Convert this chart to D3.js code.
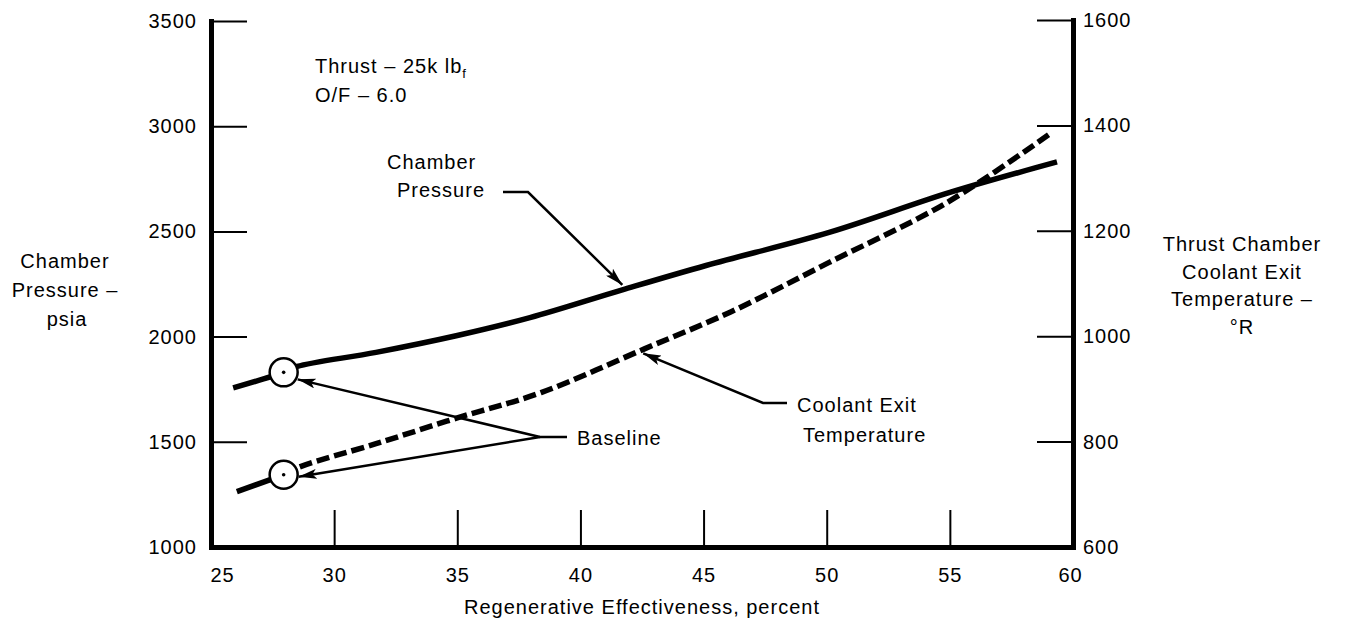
<!DOCTYPE html>
<html><head><meta charset="utf-8">
<script src="https://cdn.jsdelivr.net/npm/d3@7"></script>
<style>
body{margin:0;background:#fff;}
svg text{font-family:"Liberation Sans",Arial,Helvetica,sans-serif;font-size:20px;letter-spacing:1px;fill:#000;}
</style></head>
<body><svg id="c" width="1350" height="624"></svg>
<script>
// ---- data ----
const xTicks = [25,30,35,40,45,50,55,60];
const pressureTicks = [1000,1500,2000,2500,3000,3500];
const tempTicks = [600,800,1000,1200,1400,1600];
// Chamber pressure (psia) vs regenerative effectiveness (%)
const pressureX = [25.9,27.95,28.5,31.7,35.0,37.95,41.7,45.1,50.1,55.0,59.35];
const pressureY = [1756,1830,1858,1925,2005,2090,2222,2338,2495,2685,2830];
// Coolant exit temperature (°R)
const tempX = [26.05,27.95,28.6,31.7,35.0,38.4,42.6,46.1,50.1,54.9,59.15];
const tempY = [705,737,752,796,845,893,976,1046,1140,1254,1387];
// baseline point
const baseX = 27.95, basePressure = 1830, baseTemp = 737;

const svg = d3.select("#c");
const x = d3.scaleLinear().domain([25,60]).range([211,1073]);
const yL = d3.scaleLinear().domain([1000,3500]).range([547,21]);
const yR = d3.scaleLinear().domain([600,1600]).range([547,20]);

function styleAxis(g){
  g.select(".domain").attr("stroke","#000").attr("stroke-width",5).attr("stroke-linecap","square");
  g.selectAll(".tick line").attr("stroke","#000").attr("stroke-width",2);
  g.selectAll(".tick text").attr("font-size",null).attr("font-family",null).attr("fill","#000");
  g.attr("font-size",null).attr("font-family",null);
}
// bottom axis
const gx = svg.append("g").attr("transform","translate(0,547)")
  .call(d3.axisBottom(x).tickValues(xTicks).tickSizeInner(-37).tickSizeOuter(0).tickPadding(21).tickFormat(d3.format("d")));
styleAxis(gx);
gx.selectAll(".tick").filter(d=>d===25||d===60).select("line").remove();
gx.selectAll(".tick text").attr("dx",d=>d===25?11:(d===60?-3:0));
// left axis
const gl = svg.append("g").attr("transform","translate(211,0)")
  .call(d3.axisLeft(yL).tickValues(pressureTicks).tickSizeInner(-36).tickSizeOuter(0).tickPadding(14).tickFormat(d3.format("d")));
styleAxis(gl);
gl.selectAll(".tick").filter(d=>d===1000).select("line").remove();
// right axis
const gr = svg.append("g").attr("transform","translate(1073,0)")
  .call(d3.axisRight(yR).tickValues(tempTicks).tickSizeInner(-36).tickSizeOuter(0).tickPadding(10).tickFormat(d3.format("d")));
styleAxis(gr);
gr.selectAll(".tick").filter(d=>d===600).select("line").remove();

// curves
const pData = pressureX.map((v,i)=>[v,pressureY[i]]);
const tData = tempX.map((v,i)=>[v,tempY[i]]);
const lineP = d3.line().x(d=>x(d[0])).y(d=>yL(d[1])).curve(d3.curveCatmullRom.alpha(0.5));
const lineT = d3.line().x(d=>x(d[0])).y(d=>yR(d[1])).curve(d3.curveCatmullRom.alpha(0.5));
svg.append("path").attr("d",lineP(pData)).attr("fill","none").attr("stroke","#000").attr("stroke-width",5.5);
svg.append("path").attr("d",lineT(tData.filter(d=>d[0]<=baseX))).attr("fill","none").attr("stroke","#000").attr("stroke-width",5.5);
svg.append("path").attr("d",lineT(tData.filter(d=>d[0]>=baseX))).attr("fill","none").attr("stroke","#000").attr("stroke-width",5.5).attr("stroke-dasharray","13,5");

// markers
svg.append("defs").append("marker").attr("id","ah").attr("viewBox","0 0 18 10").attr("refX",18).attr("refY",5)
  .attr("markerWidth",18).attr("markerHeight",10).attr("markerUnits","userSpaceOnUse").attr("orient","auto")
  .append("path").attr("d","M0,0 L18,5 L0,10 L4,5 Z").attr("fill","#000");

// baseline circles
[[baseX,yL(basePressure)],[baseX,yR(baseTemp)]].forEach(p=>{
  svg.append("circle").attr("cx",x(p[0])).attr("cy",p[1]).attr("r",14).attr("fill","#fff").attr("stroke","#000").attr("stroke-width",2.5);
  svg.append("circle").attr("cx",x(p[0])).attr("cy",p[1]).attr("r",1.8).attr("fill","#000");
});

// leaders
function leader(pts){
  svg.append("path").attr("d",d3.line()(pts)).attr("fill","none").attr("stroke","#000").attr("stroke-width",2.5).attr("marker-end","url(#ah)");
}
leader([[503,192],[528,192],[x(41.7),yL(2222)-5]]);
leader([[787,403],[763,403],[x(42.55),yR(975)+4]]);
leader([[567,437],[540,437],[x(baseX)+14,yL(basePressure)+7]]);
leader([[540,437],[x(baseX)+15,yR(baseTemp)+2]]);

// texts
function txt(s,xx,yy,anchor){ return svg.append("text").attr("x",xx).attr("y",yy).attr("text-anchor",anchor||"start").text(s); }
const t1 = txt("Thrust – 25k lb",315,73);
t1.append("tspan").attr("font-size",13).attr("dy",5).text("f");
txt("O/F – 6.0",315,102);
txt("Chamber",387,169);
txt("Pressure",397,197);
txt("Coolant Exit",797,412);
txt("Temperature",803,442);
txt("Baseline",577,445);
txt("Chamber",65,268,"middle");
txt("Pressure –",65,297,"middle");
txt("psia",67,326,"middle");
txt("Thrust Chamber",1242,251,"middle");
txt("Coolant Exit",1242,279,"middle");
txt("Temperature –",1242,306,"middle");
txt("°R",1242,334,"middle");
txt("Regenerative Effectiveness, percent",642,614,"middle");
</script></body></html>
